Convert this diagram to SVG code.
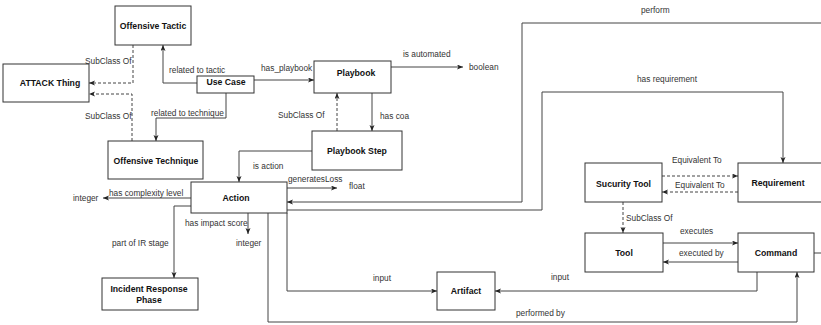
<svg xmlns="http://www.w3.org/2000/svg" width="821" height="325" viewBox="0 0 821 325">
<style>
.box{fill:#fff;stroke:#333;stroke-width:1}
.nt{font-family:"Liberation Sans",Arial,sans-serif;font-size:8.7px;font-weight:bold;fill:#111;text-anchor:middle}
.lb{font-family:"Liberation Sans",Arial,sans-serif;font-size:8.3px;fill:#333}
.ln{fill:none;stroke:#444;stroke-width:1}
.dash{stroke-dasharray:3,2}
</style>
<defs>
<marker id="ar" markerUnits="userSpaceOnUse" markerWidth="7" markerHeight="6" refX="6" refY="2.5" orient="auto">
<path d="M0,0 L6,2.5 L0,5 L1.5,2.5 z" fill="#222"/>
</marker>
</defs>
<rect width="821" height="325" fill="#fff"/>
<g id="connectors">
<path class="ln" d="M197,83 H163 V45" marker-end="url(#ar)"/>
<path class="ln" d="M226,93 V118 H156 V141" marker-end="url(#ar)"/>
<path class="ln dash" d="M133,45 V83 H89" marker-end="url(#ar)"/>
<path class="ln dash" d="M132,141 V94 H89" marker-end="url(#ar)"/>
<path class="ln" d="M254,80 H314" marker-end="url(#ar)"/>
<path class="ln" d="M391,67 H463" marker-end="url(#ar)"/>
<path class="ln dash" d="M337,131 V93" marker-end="url(#ar)"/>
<path class="ln" d="M372,93 V131" marker-end="url(#ar)"/>
<path class="ln" d="M312,151 H239 V182" marker-end="url(#ar)"/>
<path class="ln" d="M287,188 H337" marker-end="url(#ar)"/>
<path class="ln" d="M191,198 H103" marker-end="url(#ar)"/>
<path class="ln" d="M248,213 V234" marker-end="url(#ar)"/>
<path class="ln" d="M191,206 H174 V278" marker-end="url(#ar)"/>
<path class="ln" d="M287,213 V291 H437" marker-end="url(#ar)"/>
<path class="ln" d="M757,272 V291 H495" marker-end="url(#ar)"/>
<path class="ln" d="M663,243 H738" marker-end="url(#ar)"/>
<path class="ln" d="M738,262 H663" marker-end="url(#ar)"/>
<path class="ln dash" d="M662,176 H738" marker-end="url(#ar)"/>
<path class="ln dash" d="M738,192 H662" marker-end="url(#ar)"/>
<path class="ln dash" d="M623,202 V233" marker-end="url(#ar)"/>
<path class="ln" d="M287,210 H542 V92 H783 V163" marker-end="url(#ar)"/>
<path class="ln" d="M822,23 H522 V202 H287" marker-end="url(#ar)"/>
<path class="ln" d="M268,213 V322 H797 V272" marker-end="url(#ar)"/>
<path class="ln" d="M814,253 H822"/>
<text class="lb" x="169" y="73">related to tactic</text>
<text class="lb" x="151" y="116">related to technique</text>
<text class="lb" x="85" y="64">SubClass Of</text>
<text class="lb" x="85" y="119">SubClass Of</text>
<text class="lb" x="261" y="71">has_playbook</text>
<text class="lb" x="403" y="57">is automated</text>
<text class="lb" x="469" y="70">boolean</text>
<text class="lb" x="278" y="118">SubClass Of</text>
<text class="lb" x="380" y="119">has coa</text>
<text class="lb" x="253" y="169">is action</text>
<text class="lb" x="288" y="182">generatesLoss</text>
<text class="lb" x="349" y="189">float</text>
<text class="lb" x="109" y="196">has complexity level</text>
<text class="lb" x="73" y="201">integer</text>
<text class="lb" x="185" y="226">has impact score</text>
<text class="lb" x="236" y="246">integer</text>
<text class="lb" x="112" y="246">part of IR stage</text>
<text class="lb" x="373" y="281">input</text>
<text class="lb" x="551" y="280">input</text>
<text class="lb" x="516" y="316">performed by</text>
<text class="lb" x="641" y="13">perform</text>
<text class="lb" x="637" y="82">has requirement</text>
<text class="lb" x="672" y="163">Equivalent To</text>
<text class="lb" x="675" y="188">Equivalent To</text>
<text class="lb" x="626" y="221">SubClass Of</text>
<text class="lb" x="680" y="234">executes</text>
<text class="lb" x="679" y="256">executed by</text>
</g>
<g id="offensive-tactic"><rect class="box" x="115" y="6" width="76" height="39"/><text class="nt" x="153" y="28.5">Offensive Tactic</text></g>
<g id="attack-thing"><rect class="box" x="3" y="64" width="86" height="38"/><text class="nt" x="50" y="86">ATTACK Thing</text></g>
<g id="use-case"><rect class="box" x="197" y="76" width="57" height="17"/><text class="nt" x="226" y="84.5">Use Case</text></g>
<g id="playbook"><rect class="box" x="314" y="61" width="77" height="32"/><text class="nt" x="356" y="76">Playbook</text></g>
<g id="playbook-step"><rect class="box" x="312" y="131" width="90" height="39"/><text class="nt" x="357" y="154">Playbook Step</text></g>
<g id="offensive-technique"><rect class="box" x="108" y="141" width="95" height="38"/><text class="nt" x="156" y="164">Offensive Technique</text></g>
<g id="action"><rect class="box" x="191" y="182" width="96" height="31"/><text class="nt" x="236" y="201">Action</text></g>
<g id="incident-response-phase"><rect class="box" x="102" y="278" width="96" height="32"/><text class="nt" x="149" y="292">Incident Response</text><text class="nt" x="149" y="303">Phase</text></g>
<g id="artifact"><rect class="box" x="437" y="272" width="58" height="38"/><text class="nt" x="466" y="294">Artifact</text></g>
<g id="security-tool"><rect class="box" x="585" y="163" width="77" height="39"/><text class="nt" x="623.5" y="186.5">Sucurity Tool</text></g>
<g id="requirement"><rect class="box" x="738" y="163" width="100" height="39"/><text class="nt" x="778" y="186">Requirement</text></g>
<g id="tool"><rect class="box" x="585" y="233" width="78" height="39"/><text class="nt" x="624" y="256">Tool</text></g>
<g id="command"><rect class="box" x="738" y="233" width="76" height="39"/><text class="nt" x="776" y="255.5">Command</text></g>
</svg>
